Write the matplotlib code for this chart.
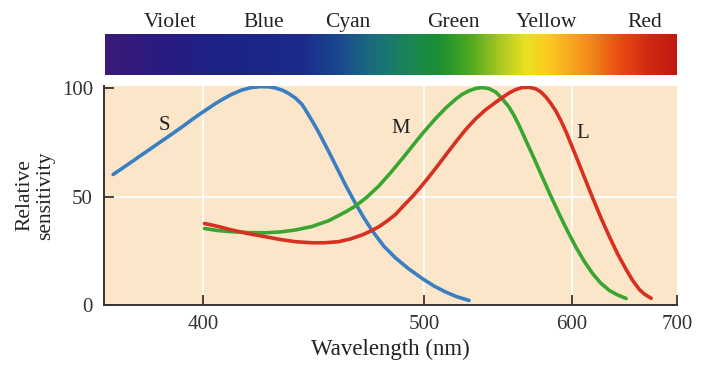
import matplotlib
matplotlib.use("Agg")
import matplotlib.pyplot as plt
import numpy as np
from matplotlib.colors import LinearSegmentedColormap, Normalize

# Cone sensitivity curves, wavelength in nm
S_WL  = [369.8, 372.6, 375.5, 378.4, 381.0, 384.3, 387.7, 392.2, 395.3, 398.2, 401.1, 404.3,
         407.4, 410.4, 414.3, 417.8, 421.7, 425.1, 427.9, 430.9, 433.4, 436.4, 439.2, 441.2,
         443.6, 445.7, 447.4, 451.2, 454.9, 459.0, 463.8, 467.9, 472.1, 478.0, 484.2, 491.4,
         498.8, 505.4, 512.3, 519.1, 526.6]
S_VAL = [60.2, 63.0, 65.9, 68.8, 71.3, 74.5, 77.7, 81.9, 84.9, 87.6, 90.1, 92.8,
         95.1, 97.1, 99.1, 100.2, 100.7, 100.6, 100.1, 99.0, 97.6, 95.4, 92.5, 89.2,
         85.0, 81.3, 78.1, 70.7, 63.4, 55.4, 46.9, 40.3, 34.3, 27.2, 21.7, 16.6,
         12.2, 8.8, 6.0, 3.8, 2.1]

M_WL  = [400.4, 405.5, 410.5, 417.0, 423.7, 430.0, 436.3, 443.6, 451.2, 459.0, 463.8, 469.4,
         475.5, 481.7, 488.1, 495.1, 500.3, 506.4, 512.3, 518.3, 522.2, 526.6, 530.8, 535.1,
         539.4, 543.9, 548.2, 553.0, 556.5, 560.0, 564.8, 570.9, 577.1, 582.9, 590.0, 596.3,
         603.4, 610.4, 617.5, 624.2, 632.3, 639.6, 647.8]
M_VAL = [35.3, 34.3, 33.8, 33.4, 33.3, 33.7, 34.6, 36.2, 38.9, 42.9, 45.6, 49.7,
         54.9, 61.1, 67.8, 75.2, 80.4, 86.0, 90.8, 94.9, 97.1, 98.8, 99.9, 100.3,
         99.8, 98.2, 95.2, 91.2, 87.3, 82.8, 75.9, 67.5, 58.8, 50.9, 41.9, 34.4,
         26.7, 20.1, 14.5, 10.3, 6.7, 4.7, 3.0]

L_WL  = [400.4, 405.5, 410.5, 417.0, 423.7, 430.0, 436.3, 443.6, 449.3, 455.8, 461.5, 467.1,
         471.4, 475.5, 479.6, 484.2, 488.6, 493.2, 497.9, 502.6, 507.2, 512.3, 518.3, 524.5,
         530.8, 537.3, 543.9, 548.2, 553.0, 557.7, 562.4, 567.2, 572.1, 575.9, 579.7, 583.5,
         587.4, 591.3, 595.3, 599.3, 603.4, 610.4, 617.5, 624.8, 632.3, 639.9, 647.8, 654.1,
         660.7, 665.7, 672.5]
L_VAL = [37.6, 36.2, 34.6, 32.9, 31.5, 30.2, 29.2, 28.7, 28.7, 29.2, 30.5, 32.3,
         34.1, 36.1, 38.6, 41.8, 45.9, 49.9, 54.4, 59.1, 63.8, 69.1, 75.1, 80.9,
         85.9, 90.1, 93.5, 95.6, 97.8, 99.4, 100.3, 100.4, 99.7, 98.2, 95.9, 92.9,
         89.4, 85.0, 80.0, 74.4, 68.7, 59.0, 49.4, 40.2, 31.5, 23.5, 16.4, 11.3,
         7.1, 5.0, 3.1]

# Spectrum bar colour stops (wavelength, colour)
SPEC_WL  = [367, 381, 398, 438, 456, 470, 486, 508, 527, 546, 564, 578, 598, 619, 642, 671, 700]
SPEC_COL = ["#3a1a78", "#2c1a80", "#1f2085", "#1a2a8a", "#1a4a8c", "#1a6a80", "#1a8060",
            "#1a9030", "#50a820", "#a8c820", "#e8e020", "#f8d020", "#f8a820", "#f08018",
            "#e84a10", "#d02812", "#c01810"]

COLOR_NAMES = ["Violet", "Blue", "Cyan", "Green", "Yellow", "Red"]
COLOR_NAME_WL = [388, 423, 460, 517, 580, 666]

X_TICKS = [400, 500, 600, 700]
Y_TICKS = [0, 50, 100]
X_MIN, X_MAX = 367, 700

BG = "#fce6c9"
SPINE = "#3a3232"
TXT = "#222222"
FONT = "Liberation Serif"

plt.rcParams["font.family"] = [FONT, "DejaVu Serif"]


# x axis is linear in 1/wavelength
def _fwd(x):
    return -1.0 / np.asarray(x, float)


def _inv(y):
    return -1.0 / np.asarray(y, float)


fig = plt.figure(figsize=(7.05, 3.66), dpi=100)

# spectrum bar
bax = fig.add_axes([105 / 705, 1 - 75 / 366, 572 / 705, 41 / 366])
bax.set_xscale("function", functions=(_fwd, _inv))
norm = Normalize(X_MIN, X_MAX)
cmap = LinearSegmentedColormap.from_list(
    "spec", [(norm(w), c) for w, c in zip(SPEC_WL, SPEC_COL)])
wl = np.linspace(X_MIN, X_MAX, 400)
bax.pcolormesh(wl, [0, 1], wl[:-1][None, :], cmap=cmap, norm=norm, shading="flat")
bax.set_xlim(X_MIN, X_MAX)
bax.set_ylim(0, 1)
bax.axis("off")
for name, w in zip(COLOR_NAMES, COLOR_NAME_WL):
    bax.text(w, 1.05, name, ha="center", va="bottom", fontsize=15.5, color=TXT)

# main plot
ax = fig.add_axes([104 / 705, 1 - 305 / 366, 573 / 705, 219 / 366])
ax.set_xscale("function", functions=(_fwd, _inv))
ax.set_facecolor(BG)
ax.set_xlim(X_MIN, X_MAX)
ax.set_ylim(0, 101)

for w in X_TICKS[:-1]:
    ax.axvline(w, color="white", lw=1.2, zorder=0)
ax.axhline(50, color="white", lw=1.2, zorder=0)

ax.plot(S_WL, S_VAL, color="#3a7fc2", lw=2.6, solid_capstyle="round", solid_joinstyle="round")
ax.plot(M_WL, M_VAL, color="#3aa632", lw=2.6, solid_capstyle="round", solid_joinstyle="round")
ax.plot(L_WL, L_VAL, color="#d83020", lw=2.6, solid_capstyle="round", solid_joinstyle="round")

ax.text(386.5, 83, "S", fontsize=15, ha="center", va="center", color=TXT)
ax.text(487, 81.5, "M", fontsize=15, ha="center", va="center", color=TXT)
ax.text(609, 79, "L", fontsize=15, ha="center", va="center", color=TXT)

for side in ["top", "right"]:
    ax.spines[side].set_visible(False)
for side in ["left", "bottom"]:
    ax.spines[side].set_color(SPINE)
    ax.spines[side].set_linewidth(1.4)

ax.set_xticks(X_TICKS)
ax.set_xticklabels([str(t) for t in X_TICKS])
ax.set_yticks(Y_TICKS)
ax.xaxis.set_minor_locator(matplotlib.ticker.NullLocator())
ax.tick_params(axis="both", direction="in", length=7, width=1.3, color=SPINE,
               labelsize=15, labelcolor="#333333")
ax.tick_params(axis="x", pad=7)
ax.tick_params(axis="y", pad=8)

ax.set_xlabel("Wavelength (nm)", fontsize=16.5, color=TXT, labelpad=4)
ax.set_ylabel("Relative\nsensitivity", fontsize=15.5, color=TXT, linespacing=1.1)
ax.yaxis.set_label_coords(-0.086, 0.5)

fig.savefig("out.png", dpi=100)
